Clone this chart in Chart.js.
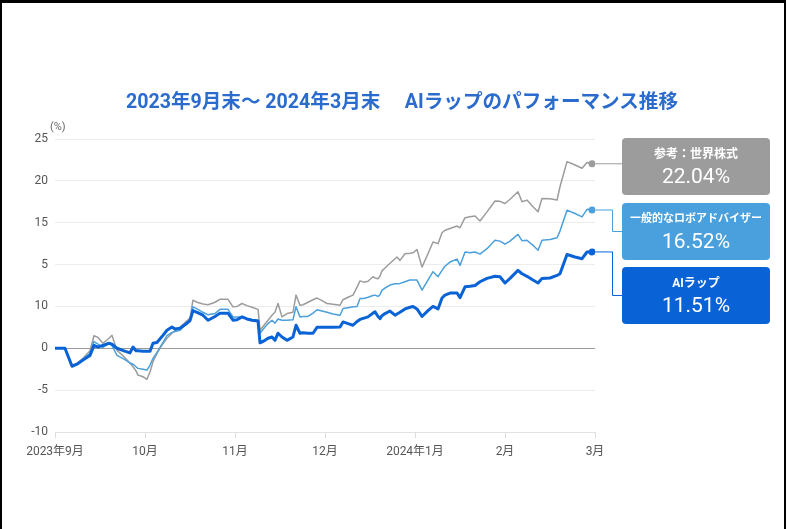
<!DOCTYPE html>
<html lang="ja">
<head>
<meta charset="utf-8">
<script src="https://cdn.jsdelivr.net/npm/chart.js@4.4.1/dist/chart.umd.min.js"></script>
<style>
  html,body{margin:0;padding:0;background:#fff;overflow:hidden;}
  #wrap{position:relative;width:787px;height:529px;overflow:hidden;font-family:Roboto,"Noto Sans CJK JP",sans-serif;}
  canvas{position:absolute;left:0;top:0;}
  #title{position:absolute;left:0;width:804px;top:90px;text-align:center;font-size:19.6px;line-height:24px;font-weight:700;color:#2b6bce;white-space:pre;}
  #unit{position:absolute;left:50px;top:120px;font-size:11px;color:#666;}
  .box{position:absolute;left:622px;width:148px;height:57px;border-radius:4px;color:#fff;text-align:center;}
  .box .lab{position:absolute;left:0;right:0;top:8px;font-size:12px;line-height:16px;font-weight:700;}
  .box .val{position:absolute;left:0;right:0;top:26px;font-size:21px;line-height:25px;font-weight:400;}
  #frame{position:absolute;left:0;top:0;width:786px;height:700px;box-sizing:border-box;border:2px solid #000;border-top-width:3px;pointer-events:none;}
</style>
</head>
<body>
<div id="wrap">
  <canvas id="c" width="787" height="529"></canvas>
  <div id="title"></div>
  <div id="unit">(%)</div>
  <div id="boxes"></div>
  <div id="frame"></div>
</div>
<script>
// ---- data ----
const titleText = '2023年9月末～ 2024年3月末　 AIラップのパフォーマンス推移';
const monthLabels = ['2023年9月', '10月', '11月', '12月', '2024年1月', '2月', '3月'];
const yTickValues = [-10, -5, 0, 5, 10, 15, 20, 25];
const yTickLabels = ['-10', '-5', '0', '10', '5', '15', '20', '25'];
const seriesNames = ['AIラップ', '一般的なロボアドバイザー', '参考：世界株式'];
const finalValues = [11.51, 16.52, 22.04];
// x position in months elapsed since end of Sep 2023
const months = [0,0.056,0.111,0.189,0.244,0.311,0.389,0.433,0.478,0.533,0.6,0.633,0.689,0.767,0.833,0.867,0.9,0.922,0.978,1.022,1.056,1.089,1.133,1.189,1.244,1.3,1.333,1.389,1.456,1.5,1.533,1.578,1.644,1.7,1.778,1.833,1.922,1.978,2.022,2.078,2.133,2.189,2.256,2.278,2.333,2.367,2.411,2.444,2.478,2.522,2.578,2.644,2.678,2.722,2.756,2.811,2.867,2.911,2.967,3.022,3.089,3.167,3.2,3.256,3.311,3.356,3.389,3.433,3.478,3.533,3.556,3.589,3.611,3.633,3.667,3.722,3.778,3.8,3.833,3.889,3.944,3.978,4.022,4.078,4.144,4.2,4.256,4.3,4.333,4.389,4.467,4.5,4.556,4.611,4.667,4.722,4.8,4.889,4.944,5.0,5.056,5.144,5.189,5.244,5.311,5.367,5.411,5.5,5.578,5.611,5.689,5.778,5.856,5.911,5.967];
const aiWrap = [0,0,0,-2.15,-1.9,-1.4,-0.85,0.35,0.15,0.35,0.6,0.5,0,-0.3,-0.55,0.15,-0.3,-0.3,-0.35,-0.35,-0.35,0.6,0.7,1.4,2.15,2.55,2.3,2.4,2.9,3.3,4.5,4.3,3.95,3.35,3.8,4.2,4.2,3.35,3.4,3.75,3.5,3.35,3.25,0.65,0.95,1.2,1.35,0.95,1.8,1.35,0.95,1.35,2.75,1.8,1.85,1.8,1.8,2.5,2.5,2.5,2.5,2.55,3.15,2.95,2.75,3.2,3.45,3.6,3.75,4.2,4.35,3.8,3.55,3.9,4.15,4.45,3.95,4.1,4.3,4.7,4.9,5.0,4.7,3.8,4.5,5.0,4.7,6.0,6.35,6.6,6.6,6.05,7.35,7.4,7.5,7.95,8.35,8.6,8.55,7.8,8.35,9.3,8.9,8.6,8.15,7.8,8.35,8.4,8.7,8.9,11.2,10.9,10.7,11.5,11.51];
const roboAdvisor = [0,0,0,-2.1,-1.9,-1.3,-0.6,0.8,0.5,0.1,0.6,0.3,-0.85,-1.3,-1.75,-1.9,-2.2,-2.4,-2.5,-2.6,-2.0,-1.2,-0.5,0.5,1.5,1.9,2.0,2.15,2.9,3.4,4.95,4.7,4.3,4.0,4.15,4.65,4.65,3.75,3.75,3.7,3.55,3.45,3.35,1.8,2.55,2.95,3.35,3.0,3.5,3.35,3.35,3.4,4.95,3.75,3.8,3.8,4.2,4.6,4.45,4.3,4.1,3.95,4.75,4.85,4.95,5.0,5.95,5.95,6.1,6.3,6.35,6.2,6.4,6.95,7.2,7.55,7.7,7.7,7.75,7.95,8.15,8.15,8.15,6.95,8.15,9.15,8.55,9.3,9.8,10.3,10.65,9.9,11.5,11.4,11.5,11.25,11.9,12.9,12.8,12.45,12.8,13.6,12.85,12.9,12.3,11.7,12.9,13.0,13.2,14.0,16.5,16.1,15.7,16.6,16.52];
const worldStocks = [0,0,0,-2.0,-1.8,-1.2,-0.3,1.5,1.3,0.6,1.2,1.55,-0.25,-1.0,-1.8,-2.2,-2.7,-3.2,-3.4,-3.7,-2.8,-1.6,-0.6,0.4,1.2,1.8,2.1,2.5,3.2,3.6,5.75,5.5,5.3,5.2,5.5,5.85,5.85,4.95,5.0,5.35,5.1,4.9,4.65,2.15,2.9,3.35,3.95,4.3,5.35,3.75,4.15,4.3,6.35,5.15,5.2,5.5,5.8,6.0,5.7,5.35,5.25,5.15,5.8,6.1,6.35,7.3,8.05,7.9,8.0,8.55,8.4,8.3,8.6,9.25,9.6,10.15,10.7,10.9,10.5,11.3,11.35,11.4,11.8,9.7,11.3,12.7,12.5,13.8,14.1,14.3,14.6,14.4,15.6,15.7,15.8,15.2,16.3,17.6,17.55,17.3,17.8,18.7,17.5,17.7,16.9,16.3,17.9,17.85,17.7,19.3,22.3,21.9,21.5,22.2,22.04];

// ---- styles / layout ----
const colors = ['#0a63d6', '#4aa0dc', '#9c9c9c'];
const widths = [3, 1.5, 1.5];
const boxTops = [267, 203, 138];
const boxH = 57, boxLeft = 622, elbowX = 612;
const connectStraight = [false, false, true];

document.getElementById('title').textContent = titleText;

const boxesEl = document.getElementById('boxes');
[2, 1, 0].forEach(i => {
  const d = document.createElement('div');
  d.className = 'box';
  d.style.top = boxTops[i] + 'px';
  d.style.background = colors[i];
  const lab = document.createElement('div');
  lab.className = 'lab';
  lab.textContent = seriesNames[i];
  if (seriesNames[i].length > 8) lab.style.fontSize = '11px';
  const val = document.createElement('div');
  val.className = 'val';
  val.textContent = finalValues[i].toFixed(2) + '%';
  d.appendChild(lab); d.appendChild(val);
  boxesEl.appendChild(d);
});

const seriesData = [aiWrap, roboAdvisor, worldStocks];
const datasets = seriesData.map((arr, i) => ({
  label: seriesNames[i],
  data: arr.map((v, k) => ({ x: months[k], y: v })),
  borderColor: colors[i],
  backgroundColor: colors[i],
  borderWidth: widths[i],
  borderJoinStyle: 'round',
  tension: 0,
  pointRadius: ctx => (ctx.dataIndex === arr.length - 1 ? 3.5 : 0),
  pointHoverRadius: 0,
  pointBorderWidth: 0,
  fill: false
}));

const connectorPlugin = {
  id: 'connectors',
  afterDatasetsDraw(chart) {
    const ctx = chart.ctx;
    ctx.save();
    datasets.forEach((ds, i) => {
      const meta = chart.getDatasetMeta(i);
      const p = meta.data[meta.data.length - 1];
      const midY = boxTops[i] + boxH / 2;
      ctx.strokeStyle = colors[i];
      ctx.lineWidth = 1;
      ctx.beginPath();
      ctx.moveTo(p.x, p.y);
      if (connectStraight[i]) {
        ctx.lineTo(boxLeft, p.y);
      } else {
        ctx.lineTo(elbowX + 0.5, p.y);
        ctx.lineTo(elbowX + 0.5, midY);
        ctx.lineTo(boxLeft, midY);
      }
      ctx.stroke();
    });
    ctx.restore();
  }
};

Chart.defaults.font.family = 'Roboto, "Noto Sans CJK JP", sans-serif';
new Chart(document.getElementById('c'), {
  type: 'line',
  data: { datasets },
  plugins: [connectorPlugin],
  options: {
    responsive: false,
    devicePixelRatio: 1,
    animation: false,
    layout: { padding: { top: 139, right: 192, bottom: 67, left: 0 } },
    plugins: { legend: { display: false }, tooltip: { enabled: false }, title: { display: false } },
    scales: {
      x: {
        type: 'linear',
        min: 0, max: 6,
        afterFit: s => { s.height = 30; },
        afterBuildTicks: s => { s.ticks = monthLabels.map((_, k) => ({ value: k })); },
        ticks: {
          autoSkip: false, maxRotation: 0, padding: 7,
          color: '#555', font: { size: 12 },
          callback: v => monthLabels[v]
        },
        grid: { display: true, drawOnChartArea: false, drawTicks: true, tickLength: 6, color: '#dcdcdc' },
        border: { display: true, color: '#e2e2e2' }
      },
      y: {
        min: -10, max: 25,
        afterFit: s => { s.width = 55; },
        afterBuildTicks: s => { s.ticks = yTickValues.map(v => ({ value: v })); },
        ticks: {
          padding: 7, color: '#555', font: { size: 12 },
          callback: v => yTickLabels[yTickValues.indexOf(v)]
        },
        grid: {
          drawTicks: false,
          color: c => (c.tick && c.tick.value === 0 ? '#9a9a9a' : '#ececec'),
          lineWidth: 1
        },
        border: { display: false }
      }
    }
  }
});
</script>
</body>
</html>
